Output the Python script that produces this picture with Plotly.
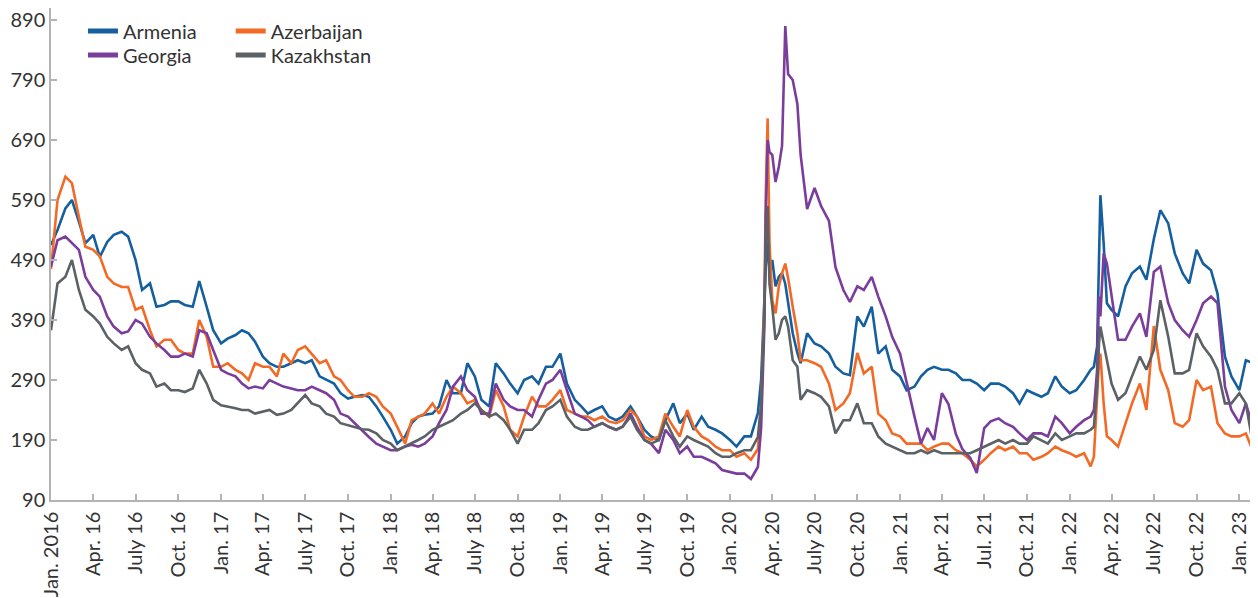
import plotly.graph_objects as go

# ---------------- data ----------------
dates = [
    # 2016
    "2016-01-01", "2016-01-15", "2016-02-01", "2016-02-15", "2016-03-01", "2016-03-15",
    "2016-04-01", "2016-04-15", "2016-05-01", "2016-05-15", "2016-06-01", "2016-06-15",
    "2016-07-01", "2016-07-15", "2016-08-01", "2016-08-15", "2016-09-01", "2016-09-15",
    "2016-10-01", "2016-10-15", "2016-11-01", "2016-11-15", "2016-12-01", "2016-12-15",
    # 2017
    "2017-01-01", "2017-01-15", "2017-02-01", "2017-02-15", "2017-03-01", "2017-03-15",
    "2017-04-01", "2017-04-15", "2017-05-01", "2017-05-15", "2017-06-01", "2017-06-15",
    "2017-07-01", "2017-07-15", "2017-08-01", "2017-08-15", "2017-09-01", "2017-09-15",
    "2017-10-01", "2017-10-15", "2017-11-01", "2017-11-15", "2017-12-01", "2017-12-15",
    # 2018
    "2018-01-01", "2018-01-15", "2018-02-01", "2018-02-15", "2018-03-01", "2018-03-15",
    "2018-04-01", "2018-04-15", "2018-05-01", "2018-05-15", "2018-06-01", "2018-06-15",
    "2018-07-01", "2018-07-15", "2018-08-01", "2018-08-15", "2018-09-01", "2018-09-15",
    "2018-10-01", "2018-10-15", "2018-11-01", "2018-11-15", "2018-12-01", "2018-12-15",
    # 2019
    "2019-01-01", "2019-01-15", "2019-02-01", "2019-02-15", "2019-03-01", "2019-03-15",
    "2019-04-01", "2019-04-15", "2019-05-01", "2019-05-15", "2019-06-01", "2019-06-15",
    "2019-07-01", "2019-07-15", "2019-08-01", "2019-08-15", "2019-09-01", "2019-09-15",
    "2019-10-01", "2019-10-15", "2019-11-01", "2019-11-15", "2019-12-01", "2019-12-15",
    # 2020
    "2020-01-01", "2020-01-15", "2020-02-01", "2020-02-15", "2020-03-01", "2020-03-08",
    "2020-03-15", "2020-03-18", "2020-03-22", "2020-03-26", "2020-04-01", "2020-04-08",
    "2020-04-15", "2020-04-22", "2020-04-29", "2020-05-05", "2020-05-15", "2020-05-25",
    "2020-06-01", "2020-06-15", "2020-07-01", "2020-07-15", "2020-08-01", "2020-08-15",
    "2020-09-01", "2020-09-15", "2020-10-01", "2020-10-15", "2020-11-01", "2020-11-15",
    "2020-12-01", "2020-12-15",
    # 2021
    "2021-01-01", "2021-01-15", "2021-02-01", "2021-02-15", "2021-03-01", "2021-03-15",
    "2021-04-01", "2021-04-15", "2021-05-01", "2021-05-15", "2021-06-01", "2021-06-15",
    "2021-07-01", "2021-07-15", "2021-08-01", "2021-08-15", "2021-09-01", "2021-09-15",
    "2021-10-01", "2021-10-15", "2021-11-01", "2021-11-15", "2021-12-01", "2021-12-15",
    # 2022
    "2022-01-01", "2022-01-15", "2022-02-01", "2022-02-15", "2022-02-22", "2022-03-01",
    "2022-03-05", "2022-03-08", "2022-03-15", "2022-03-22", "2022-04-01", "2022-04-15",
    "2022-05-01", "2022-05-15", "2022-06-01", "2022-06-15", "2022-07-01", "2022-07-15",
    "2022-08-01", "2022-08-15", "2022-09-01", "2022-09-15", "2022-10-01", "2022-10-15",
    "2022-11-01", "2022-11-15", "2022-12-01", "2022-12-15",
    # 2023
    "2023-01-01", "2023-01-15", "2023-02-01", "2023-02-06",
]

armenia = [
    515, 540, 576, 590, 554, 518, 532, 495, 520, 532, 537, 529, 490, 440, 451, 412, 415, 421, 421, 415, 412, 455, 412, 373,
    351, 359, 365, 373, 368, 354, 329, 318, 312, 312, 318, 323, 318, 323, 296, 290, 284, 268, 259, 262, 265, 262, 246, 229,
    207, 184, 196, 218, 229, 232, 234, 246, 290, 268, 268, 318, 296, 257, 246, 318, 301, 284, 268, 290, 296, 284, 312, 312,
    334, 284, 257, 246, 234, 240, 246, 229, 223, 229, 246, 229, 207, 196, 190, 223, 251, 218, 234, 207, 229, 212, 207, 201,
    190, 179, 196, 196, 235, 290, 420, 480, 520, 470, 490, 446, 462, 468, 450, 420, 368, 335, 318, 368, 351, 346, 334, 312,
    301, 298, 396, 379, 412, 334, 346, 307,
    296, 273, 279, 296, 307, 312, 307, 307, 301, 290, 290, 284, 273, 284, 284, 279, 268, 251, 273, 268, 262, 268, 296, 279,
    268, 273, 290, 307, 312, 346, 470, 598, 518, 418, 407, 396, 446, 468, 479, 457, 525, 573, 551, 501, 468, 451, 507, 484,
    473, 434, 329, 296,
    273, 323, 318, 310,
]

azerbaijan = [
    475, 590, 629, 618, 562, 512, 507, 496, 462, 451, 445, 445, 407, 412, 373, 346, 357, 357, 340, 334, 334, 390, 362, 312,
    312, 318, 307, 301, 290, 318, 312, 312, 296, 334, 318, 340, 346, 334, 318, 323, 296, 290, 273, 262, 262, 268, 262, 246,
    234, 212, 184, 223, 229, 234, 251, 234, 262, 279, 268, 251, 257, 240, 229, 273, 246, 207, 196, 229, 262, 246, 246, 257,
    273, 240, 234, 229, 229, 223, 229, 221, 218, 223, 240, 229, 196, 190, 196, 234, 212, 196, 240, 212, 196, 190, 179, 173,
    173, 162, 168, 157, 175, 240, 420, 600, 726, 520, 423, 401, 446, 468, 484, 460, 412, 368, 323, 323, 318, 312, 284, 240,
    251, 268, 335, 301, 312, 234, 223, 201,
    196, 184, 184, 184, 173, 179, 184, 184, 173, 168, 157, 146, 157, 168, 179, 173, 179, 168, 168, 157, 162, 168, 179, 173,
    168, 162, 168, 146, 162, 251, 320, 334, 251, 196, 190, 179, 218, 251, 284, 240, 380, 307, 273, 218, 212, 223, 290, 273,
    279, 218, 201, 196,
    196, 201, 168, 150,
]

georgia = [
    479, 523, 529, 518, 507, 462, 440, 429, 396, 379, 368, 371, 390, 384, 362, 351, 340, 329, 329, 334, 329, 373, 368, 340,
    307, 301, 296, 284, 276, 279, 276, 290, 284, 279, 276, 273, 273, 279, 273, 268, 257, 234, 229, 218, 205, 195, 184, 179,
    173, 173, 179, 182, 179, 184, 196, 218, 240, 279, 296, 273, 262, 234, 234, 284, 257, 246, 240, 240, 229, 257, 284, 290,
    307, 273, 234, 229, 223, 212, 218, 212, 207, 212, 234, 212, 190, 184, 168, 207, 190, 168, 179, 162, 162, 157, 151, 140,
    137, 134, 134, 125, 145, 210, 380, 560, 690, 670, 665, 620, 645, 680, 880, 800, 790, 750, 665, 575, 610, 580, 555, 478,
    440, 420, 446, 440, 462, 429, 396, 362,
    334, 284, 229, 184, 210, 190, 268, 250, 200, 175, 160, 135, 210, 221, 226, 218, 212, 201, 190, 201, 201, 196, 229, 218,
    201, 212, 223, 229, 240, 307, 429, 396, 501, 484, 429, 357, 357, 379, 401, 362, 470, 479, 418, 390, 373, 362, 390, 418,
    429, 418, 279, 240,
    218, 251, 207, 200,
]

kazakhstan = [
    373, 451, 462, 490, 440, 407, 396, 384, 362, 351, 340, 346, 318, 307, 301, 279, 284, 273, 273, 270, 276, 307, 284, 257,
    248, 246, 243, 240, 240, 234, 237, 240, 232, 234, 240, 251, 265, 251, 246, 234, 229, 218, 215, 212, 208, 207, 201, 190,
    184, 173, 179, 184, 190, 196, 207, 212, 218, 223, 234, 240, 251, 240, 229, 234, 223, 207, 184, 207, 207, 218, 240, 246,
    257, 229, 212, 207, 207, 212, 218, 212, 207, 212, 229, 207, 190, 184, 190, 223, 196, 179, 196, 190, 184, 179, 168, 162,
    162, 168, 173, 173, 195, 250, 400, 520, 580, 450, 412, 357, 368, 390, 396, 379, 323, 312, 257, 273, 268, 262, 246, 201,
    223, 223, 251, 218, 218, 196, 184, 179,
    173, 168, 168, 173, 168, 173, 168, 168, 168, 168, 168, 173, 179, 184, 190, 184, 190, 184, 184, 196, 190, 184, 201, 190,
    196, 201, 201, 207, 212, 279, 351, 379, 351, 323, 284, 257, 268, 296, 329, 307, 340, 423, 362, 301, 301, 307, 368, 346,
    329, 307, 251, 251,
    268, 251, 175, 140,
]

x_tickvals = [
    "2016-01-01", "2016-04-01", "2016-07-01", "2016-10-01",
    "2017-01-01", "2017-04-01", "2017-07-01", "2017-10-01",
    "2018-01-01", "2018-04-01", "2018-07-01", "2018-10-01",
    "2019-01-01", "2019-04-01", "2019-07-01", "2019-10-01",
    "2020-01-01", "2020-04-01", "2020-07-01", "2020-10-01",
    "2021-01-01", "2021-04-01", "2021-07-01", "2021-10-01",
    "2022-01-01", "2022-04-01", "2022-07-01", "2022-10-01",
    "2023-01-01",
]
x_ticktext = [
    "Jan. 2016", "Apr. 16", "July 16", "Oct. 16",
    "Jan. 17", "Apr. 17", "July 17", "Oct. 17",
    "Jan. 18", "Apr. 18", "July 18", "Oct. 18",
    "Jan. 19", "Apr. 19", "July 19", "Oct. 19",
    "Jan. 20", "Apr. 20", "July 20", "Oct. 20",
    "Jan. 21", "Apr. 21", "Jul. 21", "Oct. 21",
    "Jan. 22", "Apr. 22", "July 22", "Oct. 22",
    "Jan. 23",
]
y_tickvals = [90, 190, 290, 390, 490, 590, 690, 790, 890]

assert len(dates) == len(armenia) == len(azerbaijan) == len(georgia) == len(kazakhstan)

# ---------------- figure ----------------
# (name, values, colour, legend id, legend x, legend y)
series = [
    ("Armenia", armenia, "#165f9e", "legend", 0.0265, 0.993),
    ("Azerbaijan", azerbaijan, "#f26a25", "legend2", 0.149, 0.993),
    ("Georgia", georgia, "#7a3d9b", "legend3", 0.0265, 0.944),
    ("Kazakhstan", kazakhstan, "#5c6166", "legend4", 0.149, 0.944),
]

FONT = "Lato, sans-serif"
axis_col = "#b3b3b3"
text_col = "#333333"

fig = go.Figure()
legends = {}
for name, vals, color, leg, lx, ly in series:
    fig.add_trace(go.Scatter(
        x=dates, y=vals, mode="lines", name=name,
        line=dict(color=color, width=2.6),
        legend=leg,
    ))
    legends[leg] = dict(
        x=lx, y=ly, xanchor="left", yanchor="top", orientation="v",
        bgcolor="rgba(0,0,0,0)", borderwidth=0,
        font=dict(family=FONT, size=20, color=text_col),
        itemsizing="constant",
    )

# The page body has an 8px margin, so the figure is shifted by 8px; size and
# margins below compensate so the plot area sits where the reference has it.
fig.update_layout(
    width=1250, height=590,
    margin=dict(l=43, r=1, t=0, b=98),
    paper_bgcolor="white", plot_bgcolor="white",
    font=dict(family=FONT, size=20, color=text_col),
    showlegend=True,
    **legends,
    xaxis=dict(
        type="date", range=["2016-01-01", "2023-02-08"],
        tickmode="array", tickvals=x_tickvals, ticktext=x_ticktext,
        tickangle=-90, ticks="inside", ticklen=6, tickwidth=1.5, tickcolor=axis_col,
        showline=True, linecolor=axis_col, linewidth=1.5,
        showgrid=False, zeroline=False,
        ticklabelstandoff=2, ticklabeloverflow="allow",
        tickfont=dict(family=FONT, size=20, color=text_col),
    ),
    yaxis=dict(
        range=[90, 910],
        tickmode="array", tickvals=y_tickvals,
        ticks="inside", ticklen=6, tickwidth=1.5, tickcolor=axis_col,
        showline=True, linecolor=axis_col, linewidth=1.5,
        showgrid=False, zeroline=False,
        ticklabeloverflow="allow",
        tickfont=dict(family=FONT, size=20, color=text_col),
    ),
)

fig.write_html("out.html")
